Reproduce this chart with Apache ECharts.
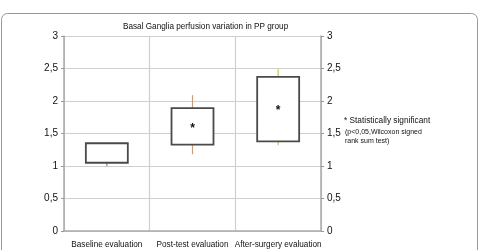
<html>
<head>
<meta charset="UTF-8">
<script src="https://cdn.jsdelivr.net/npm/echarts@6/dist/echarts.min.js"></script>
<style>
  body { margin: 0; background: #fff; }
  #main { width: 480px; height: 250px; }
</style>
</head>
<body>
<div id="main"></div>
<script type="text/javascript">
// data
var categories = ['Baseline evaluation', 'Post-test evaluation', 'After-surgery evaluation'];
var boxLow = [1.05, 1.33, 1.38];
var boxHigh = [1.35, 1.89, 2.37];
var whiskerLow = [1.0, 1.18, 1.32];
var whiskerHigh = [1.35, 2.09, 2.49];
var significant = [false, true, true];

var whiskerColors = ['#888888', '#e8955a', '#c8cc3a'];

var rows = [];
for (var i = 0; i < categories.length; i++) {
  rows.push([i, boxLow[i], boxHigh[i], whiskerLow[i], whiskerHigh[i], significant[i] ? 1 : 0]);
}

function fmt(v) { return String(v).replace('.', ','); }

var yAxisBase = {
  type: 'value', min: 0, max: 3, interval: 0.5,
  axisLine: { show: true, lineStyle: { color: '#aaaaaa', width: 1.5 } },
  axisTick: { show: true, length: 3, lineStyle: { color: '#999' } },
  axisLabel: { color: '#111', fontSize: 10, fontFamily: 'Liberation Sans', margin: 6, formatter: fmt },
  splitLine: { show: true, lineStyle: { color: '#cfcfcf', width: 1.2 } }
};

var option = {
  animation: false,
  title: {
    text: 'Basal Ganglia perfusion variation in PP group',
    left: 118, top: 18,
    textStyle: { fontSize: 8.2, fontWeight: 'normal', color: '#111', fontFamily: 'Liberation Sans' }
  },
  grid: { left: 64, right: 159, top: 36, bottom: 19 },
  xAxis: {
    type: 'category', data: categories, boundaryGap: true,
    axisLine: { show: true, lineStyle: { color: '#aaaaaa', width: 1.5 } },
    axisTick: { show: false },
    axisLabel: { color: '#111', fontSize: 8.2, fontFamily: 'Liberation Sans', margin: 10, interval: 0 },
    splitLine: { show: true, interval: 0, lineStyle: { color: '#cfcfcf', width: 1.2 } }
  },
  yAxis: [
    echarts.util.merge({ position: 'left' }, yAxisBase, true),
    echarts.util.merge({ position: 'right', splitLine: { show: false } }, yAxisBase, false)
  ],
  graphic: [
    { type: 'rect', shape: { x: 1.5, y: 13.5, width: 476, height: 260, r: 6 },
      style: { fill: 'none', stroke: '#999', lineWidth: 1 }, z: -1 },
    { type: 'text', left: 344, top: 117,
      style: { text: '* Statistically significant', fontSize: 8.3, fill: '#111', fontFamily: 'Liberation Sans' } },
    { type: 'text', left: 345, top: 128,
      style: { text: '(p<0,05,Wilcoxon signed\nrank sum test)', fontSize: 7, lineHeight: 9, fill: '#111', fontFamily: 'Liberation Sans' } }
  ],
  series: [{
    type: 'custom',
    yAxisIndex: 0,
    data: rows,
    encode: { x: 0, y: [1, 2, 3, 4] },
    renderItem: function (params, api) {
      var idx = api.value(0);
      var lo = api.coord([idx, api.value(1)]);
      var hi = api.coord([idx, api.value(2)]);
      var wl = api.coord([idx, api.value(3)]);
      var wh = api.coord([idx, api.value(4)]);
      var bw = api.size([1, 0])[0] * 0.49;
      var cx = lo[0];
      var col = whiskerColors[params.dataIndex];
      var children = [
        { type: 'line', shape: { x1: cx, y1: wl[1], x2: cx, y2: lo[1] }, style: { stroke: col, lineWidth: 1.2 } },
        { type: 'line', shape: { x1: cx, y1: hi[1], x2: cx, y2: wh[1] }, style: { stroke: col, lineWidth: 1.2 } },
        { type: 'rect', shape: { x: cx - bw / 2, y: hi[1], width: bw, height: lo[1] - hi[1] },
          style: { fill: '#fff', stroke: '#4a4a4a', lineWidth: 1.8 } }
      ];
      if (api.value(5)) {
        children.push({ type: 'text', x: cx, y: (lo[1] + hi[1]) / 2 + 2,
          style: { text: '*', fontSize: 12, fontWeight: 'bold', fill: '#111', align: 'center', verticalAlign: 'middle', fontFamily: 'Liberation Sans' } });
      }
      return { type: 'group', children: children };
    }
  }]
};

var chart = echarts.init(document.getElementById('main'));
chart.setOption(option);
</script>
</body>
</html>
